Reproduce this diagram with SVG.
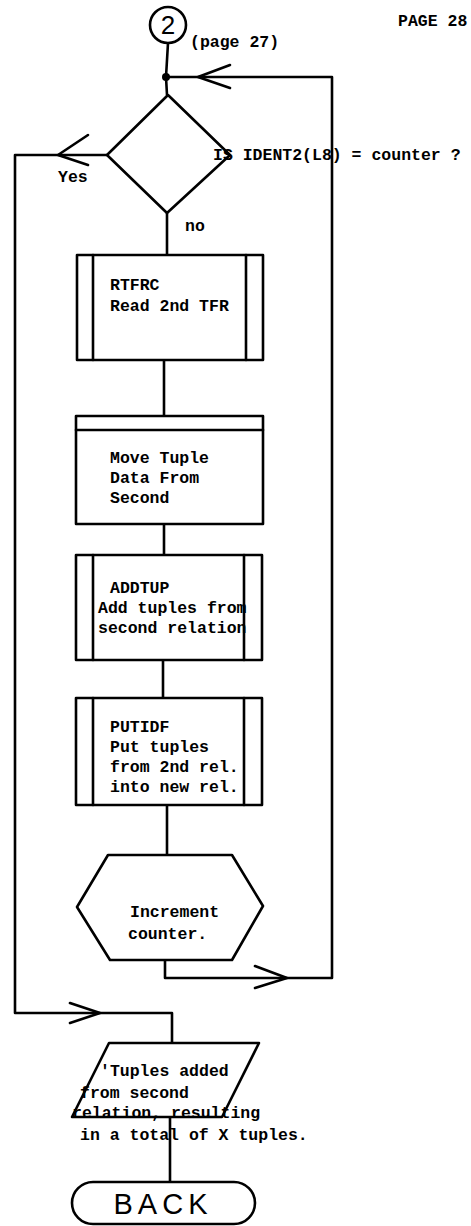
<svg xmlns="http://www.w3.org/2000/svg" width="471" height="1226" viewBox="0 0 471 1226">
<style>
.s{fill:none;stroke:#000;stroke-width:2.6;stroke-linejoin:round;stroke-linecap:round}
.w{fill:#fff;stroke:#000;stroke-width:2.6;stroke-linejoin:round}
.t{font-family:"Liberation Mono","DejaVu Sans Mono",monospace;font-weight:bold;font-size:16.5px;fill:#000}
.b{font-family:"Liberation Sans",Arial,sans-serif;font-size:29px;fill:#000}
</style>
<rect width="471" height="1226" fill="#fff"/>
<g id="connectors">
<path class="s" d="M168 43 L166 77"/>
<path class="s" d="M166 77 L167 95"/>
<path class="s" d="M166 77 H332 V978 H165 V960"/>
<path class="s" d="M230 65 L198 77 L230 88"/>
<path class="s" d="M255 966 L287 978 L255 988"/>
<path class="s" d="M107 155 H15 V1013 H172 V1043"/>
<path class="s" d="M88 135 L58 155 L88 165"/>
<path class="s" d="M70 1003 L100 1013 L70 1023"/>
<path class="s" d="M167 213 V255"/>
<path class="s" d="M164 360 V416"/>
<path class="s" d="M164 524 V555"/>
<path class="s" d="M163 660 V698"/>
<path class="s" d="M167 805 V855"/>
<path class="s" d="M170 1117 V1182"/>
<circle cx="166" cy="77" r="4" fill="#000"/>
</g>
<g id="page">
<text class="t" x="398" y="26" font-size="14">PAGE 28</text>
</g>
<g id="connector2">
<circle class="w" cx="168" cy="25" r="18"/>
<text x="168" y="34" text-anchor="middle" font-family="Liberation Sans,Arial,sans-serif" font-size="26" fill="#000">2</text>
<text class="t" x="190" y="47" font-size="15">(page 27)</text>
</g>
<g id="decision">
<path class="w" d="M168 95 L230 155 L167 213 L107 155 Z"/>
<text class="t" x="213" y="160">IS IDENT2(L8) = counter ?</text>
<text class="t" x="58" y="182">Yes</text>
<text class="t" x="185" y="231">no</text>
</g>
<g id="rtfrc">
<rect class="w" x="77" y="255" width="186" height="105"/>
<path class="s" d="M93 255 V360 M246 255 V360"/>
<text class="t" x="110" y="290">RTFRC</text>
<text class="t" x="110" y="311">Read 2nd TFR</text>
</g>
<g id="move">
<rect class="w" x="76" y="416" width="187" height="108"/>
<path class="s" d="M76 430 H263"/>
<text class="t" x="110" y="463">Move Tuple</text>
<text class="t" x="110" y="483">Data From</text>
<text class="t" x="110" y="503">Second</text>
</g>
<g id="addtup">
<rect class="w" x="76" y="555" width="186" height="105"/>
<path class="s" d="M93 555 V660 M244 555 V660"/>
<text class="t" x="110" y="593">ADDTUP</text>
<text class="t" x="98" y="613">Add tuples from</text>
<text class="t" x="98" y="633">second relation</text>
</g>
<g id="putidf">
<rect class="w" x="76" y="698" width="186" height="107"/>
<path class="s" d="M93 698 V805 M244 698 V805"/>
<text class="t" x="110" y="732">PUTIDF</text>
<text class="t" x="110" y="752">Put tuples</text>
<text class="t" x="110" y="772">from 2nd rel.</text>
<text class="t" x="110" y="792">into new rel.</text>
</g>
<g id="increment">
<path class="w" d="M108 855 H232 L263 906 L232 960 H110 L77 907 Z"/>
<text class="t" x="130" y="917">Increment</text>
<text class="t" x="128" y="939">counter.</text>
</g>
<g id="output">
<path class="w" d="M109 1043 H259 L222 1117 H72 Z"/>
<text class="t" x="100" y="1076">'Tuples added</text>
<text class="t" x="80" y="1098">from second</text>
<text class="t" x="72" y="1118">relation, resulting</text>
<text class="t" x="80" y="1140">in a total of X tuples.</text>
</g>
<g id="back">
<rect class="w" x="72" y="1182" width="183" height="42" rx="21"/>
<text class="b" x="163" y="1214" text-anchor="middle" letter-spacing="5">BACK</text>
</g>
</svg>
